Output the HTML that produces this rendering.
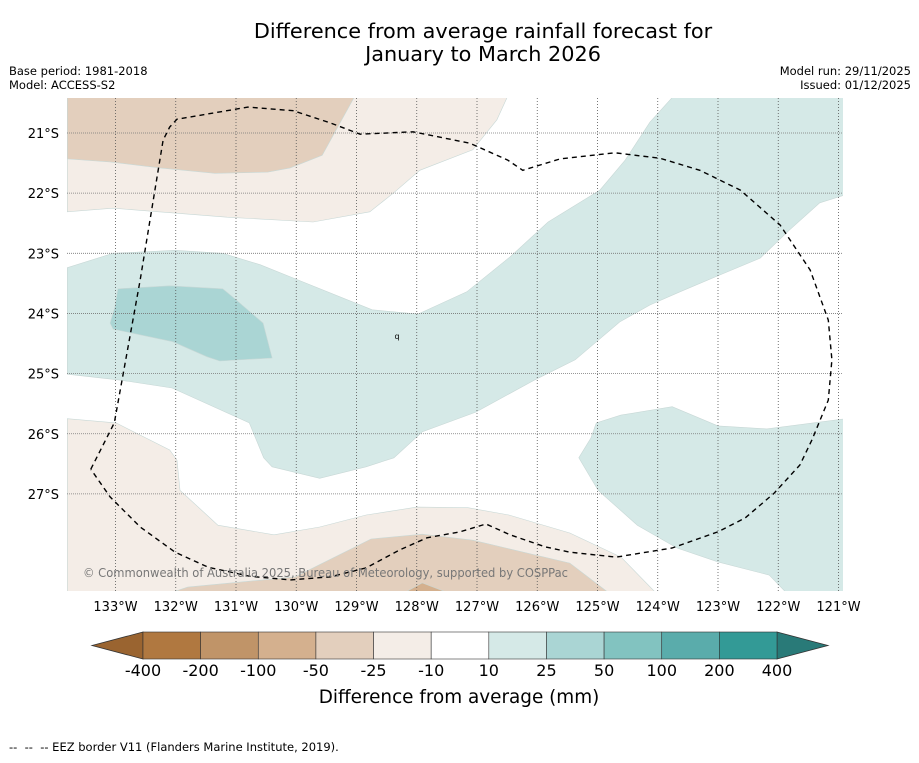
<!DOCTYPE html>
<html><head><meta charset="utf-8"><style>
body{margin:0;background:#fff;width:919px;height:758px;overflow:hidden;font-family:"Liberation Sans","DejaVu Sans",sans-serif}
svg text{font-family:"DejaVu Sans","Liberation Sans",sans-serif}
</style></head><body>
<svg id="c" width="919" height="758" viewBox="0 0 919 758" xmlns="http://www.w3.org/2000/svg">
<text x="483" y="38" text-anchor="middle" font-size="20.8" fill="#000">Difference from average rainfall forecast for</text>
<text x="483" y="61" text-anchor="middle" font-size="20.8" fill="#000">January to March 2026</text>
<text x="9" y="75" font-size="11.5">Base period: 1981-2018</text>
<text x="9" y="89" font-size="11.5">Model: ACCESS-S2</text>
<text x="911" y="75" font-size="11.5" text-anchor="end">Model run: 29/11/2025</text>
<text x="911" y="89" font-size="11.5" text-anchor="end">Issued: 01/12/2025</text>
<defs><clipPath id="mapclip"><rect x="67" y="98" width="776" height="493"/></clipPath></defs>
<g id="map" clip-path="url(#mapclip)"></g>
<g id="axes"></g>
<g id="cbar"></g>
<text x="459" y="703" text-anchor="middle" font-size="18.4">Difference from average (mm)</text>
<text x="9" y="751" font-size="11.5" xml:space="preserve" style="white-space:pre">--  --  -- EEZ border V11 (Flanders Marine Institute, 2019).</text>
</svg>
<script>
const lonTicks=[-133,-132,-131,-130,-129,-128,-127,-126,-125,-124,-123,-122,-121];
const latTicks=[-21,-22,-23,-24,-25,-26,-27];
const cbLevels=["-400","-200","-100","-50","-25","-10","10","25","50","100","200","400"];
const cbColors=["#b07840","#c09468","#d4b08e","#e3cfbd","#f4ede7","#ffffff","#d5e9e7","#aad5d4","#82c3c0","#5aacab","#339a96"];
const tanLight=[[-133.8,-20.3],[-126.45,-20.3],[-126.67,-20.78],[-127.07,-21.28],[-127.95,-21.62],[-128.39,-22.0],[-128.78,-22.31],[-129.72,-22.48],[-131.15,-22.40],[-133.04,-22.25],[-133.8,-22.31]];
const tanTop=[[-133.8,-20.3],[-128.98,-20.3],[-129.57,-21.37],[-130.10,-21.58],[-130.47,-21.65],[-131.35,-21.67],[-132.26,-21.58],[-133.09,-21.48],[-133.8,-21.43]];
const tealMain=[[-133.8,-23.24],[-133.04,-23.0],[-132.01,-22.95],[-131.22,-23.0],[-130.60,-23.19],[-130.05,-23.41],[-128.74,-23.94],[-127.98,-24.01],[-127.17,-23.64],[-126.45,-23.06],[-125.82,-22.48],[-124.96,-21.95],[-124.54,-21.45],[-124.13,-20.82],[-123.66,-20.3],[-120.8,-20.3],[-120.8,-22.0],[-121.31,-22.16],[-121.81,-22.61],[-122.30,-23.08],[-122.97,-23.36],[-123.63,-23.64],[-124.13,-23.86],[-124.63,-24.14],[-125.37,-24.77],[-126.05,-25.11],[-127.02,-25.64],[-127.91,-25.97],[-128.38,-26.40],[-128.84,-26.55],[-129.61,-26.74],[-130.40,-26.55],[-130.54,-26.40],[-130.78,-25.82],[-132.06,-25.24],[-132.91,-25.11],[-133.8,-25.01]];
const tealDark=[[-132.96,-23.59],[-132.10,-23.54],[-131.22,-23.59],[-131.05,-23.73],[-130.55,-24.16],[-130.40,-24.74],[-131.27,-24.79],[-131.48,-24.72],[-132.05,-24.47],[-133.04,-24.26],[-133.09,-24.16],[-133.01,-23.89]];
const tealRight=[[-125.02,-25.82],[-124.61,-25.69],[-123.76,-25.55],[-123.0,-25.87],[-122.19,-25.92],[-120.8,-25.74],[-120.8,-28.8],[-121.81,-28.7],[-122.15,-28.35],[-123.0,-28.13],[-123.68,-27.90],[-124.34,-27.52],[-124.99,-26.94],[-125.31,-26.40],[-125.11,-26.07]];
const tanBottom=[[-133.8,-25.75],[-132.99,-25.82],[-132.10,-26.27],[-131.98,-26.44],[-131.93,-26.94],[-131.30,-27.52],[-130.37,-27.68],[-129.61,-27.55],[-128.84,-27.35],[-128.0,-27.22],[-127.15,-27.23],[-126.47,-27.35],[-125.46,-27.65],[-124.61,-28.05],[-123.88,-28.8],[-133.8,-28.8]];
const tanMidBottom=[[-132.56,-28.8],[-131.80,-28.55],[-130.02,-28.38],[-128.76,-27.75],[-127.91,-27.67],[-127.07,-27.77],[-125.46,-28.15],[-124.61,-28.8]];
const tanDarkBottom=[[-128.49,-28.8],[-127.91,-28.48],[-127.07,-28.8]];
const eez=[[-133.41,-26.59],[-133.02,-25.82],[-132.59,-23.44],[-132.21,-21.12],[-132.10,-20.90],[-131.98,-20.77],[-130.80,-20.57],[-130.05,-20.63],[-129.44,-20.83],[-128.94,-21.02],[-128.06,-20.98],[-127.12,-21.17],[-126.49,-21.45],[-126.24,-21.62],[-125.62,-21.43],[-124.71,-21.33],[-123.96,-21.42],[-123.30,-21.62],[-122.63,-21.95],[-121.97,-22.53],[-121.47,-23.28],[-121.17,-24.11],[-121.11,-24.77],[-121.17,-25.44],[-121.44,-26.10],[-121.64,-26.52],[-122.07,-26.99],[-122.55,-27.40],[-123.0,-27.63],[-123.76,-27.90],[-124.69,-28.05],[-125.46,-27.97],[-125.87,-27.88],[-126.45,-27.68],[-126.85,-27.50],[-127.28,-27.63],[-127.83,-27.73],[-128.28,-27.93],[-128.84,-28.23],[-129.44,-28.38],[-130.10,-28.43],[-130.77,-28.37],[-131.46,-28.22],[-132.01,-27.97],[-132.59,-27.55],[-133.09,-27.05],[-133.41,-26.59]];

const NS="http://www.w3.org/2000/svg";
function X(lon){return 115.5+(lon+133)*60.25;}
function Y(lat){return 133+(-21-lat)*60.15;}
function mk(tag,attrs,parent){const e=document.createElementNS(NS,tag);for(const k in attrs)e.setAttribute(k,attrs[k]);parent.appendChild(e);return e;}
const map=document.getElementById('map'),axes=document.getElementById('axes'),cbar=document.getElementById('cbar');
const bg=mk('rect',{x:67,y:98,width:776,height:493,fill:'#fff'},map);


function poly(pts,fill,name){
  const p=mk('polygon',{points:pts.map(d=>X(d[0]).toFixed(1)+','+Y(d[1]).toFixed(1)).join(' '),fill:fill,stroke:'#c8d8d6','stroke-width':0.6},map);
  
  
}
poly(tanLight,'#f4ede7','contour-minus25-minus10-north');
poly(tanTop,'#e3cfbd','contour-minus50-minus25-north');
poly(tealMain,'#d5e9e7','contour-10-25-main');
poly(tealDark,'#aad5d4','contour-25-50');
poly(tealRight,'#d5e9e7','contour-10-25-southeast');
poly(tanBottom,'#f4ede7','contour-minus25-minus10-south');
poly(tanMidBottom,'#e3cfbd','contour-minus50-minus25-south');
poly(tanDarkBottom,'#d4b08e','contour-minus100-minus50-south');
lonTicks.forEach(l=>{
  const g=mk('line',{x1:X(l),x2:X(l),y1:98,y2:591,stroke:'#555','stroke-width':0.8,'stroke-dasharray':'1,2'},map);
  
  
  const t=mk('text',{x:X(l),y:611,'text-anchor':'middle','font-size':13},axes);
  t.textContent=Math.abs(l)+'°W';
  
  
});
latTicks.forEach(l=>{
  const g=mk('line',{x1:67,x2:843,y1:Y(l),y2:Y(l),stroke:'#777','stroke-width':0.8,'stroke-dasharray':'1,1'},map);
  
  
  const t=mk('text',{x:59,y:Y(l)+5,'text-anchor':'end','font-size':13},axes);
  t.textContent=Math.abs(l)+'°S';
  
  
});
const e=mk('polyline',{points:eez.map(d=>X(d[0]).toFixed(1)+','+Y(d[1]).toFixed(1)).join(' '),fill:'none',stroke:'#000','stroke-width':1.4,'stroke-dasharray':'5,4'},map);


const q=mk('text',{x:397,y:339,'text-anchor':'middle','font-size':8},map);q.textContent='q';


const cp=mk('text',{x:83,y:577,'font-size':12,fill:'#777',textLength:485,lengthAdjust:'spacingAndGlyphs'},map);
cp.textContent='© Commonwealth of Australia 2025, Bureau of Meteorology, supported by COSPPac';


const cx0=143,cx1=777,cy0=632,cy1=659,n=cbColors.length,w=(cx1-cx0)/n;
const lt=mk('polygon',{points:`${cx0},${cy0} ${cx0},${cy1} 92,${(cy0+cy1)/2}`,fill:'#9a6430',stroke:'#333','stroke-width':0.8},cbar);


const rt=mk('polygon',{points:`${cx1},${cy0} ${cx1},${cy1} 828,${(cy0+cy1)/2}`,fill:'#297a78',stroke:'#333','stroke-width':0.8},cbar);


cbColors.forEach((c,i)=>{
  const r=mk('rect',{x:cx0+i*w,y:cy0,width:w,height:cy1-cy0,fill:c,stroke:'#333','stroke-width':0.6},cbar);
  
  
});
cbLevels.forEach((lv,i)=>{
  const t=mk('text',{x:cx0+i*w,y:676,'text-anchor':'middle','font-size':16},cbar);
  t.textContent=lv;
  
  
});
</script>
</body></html>
